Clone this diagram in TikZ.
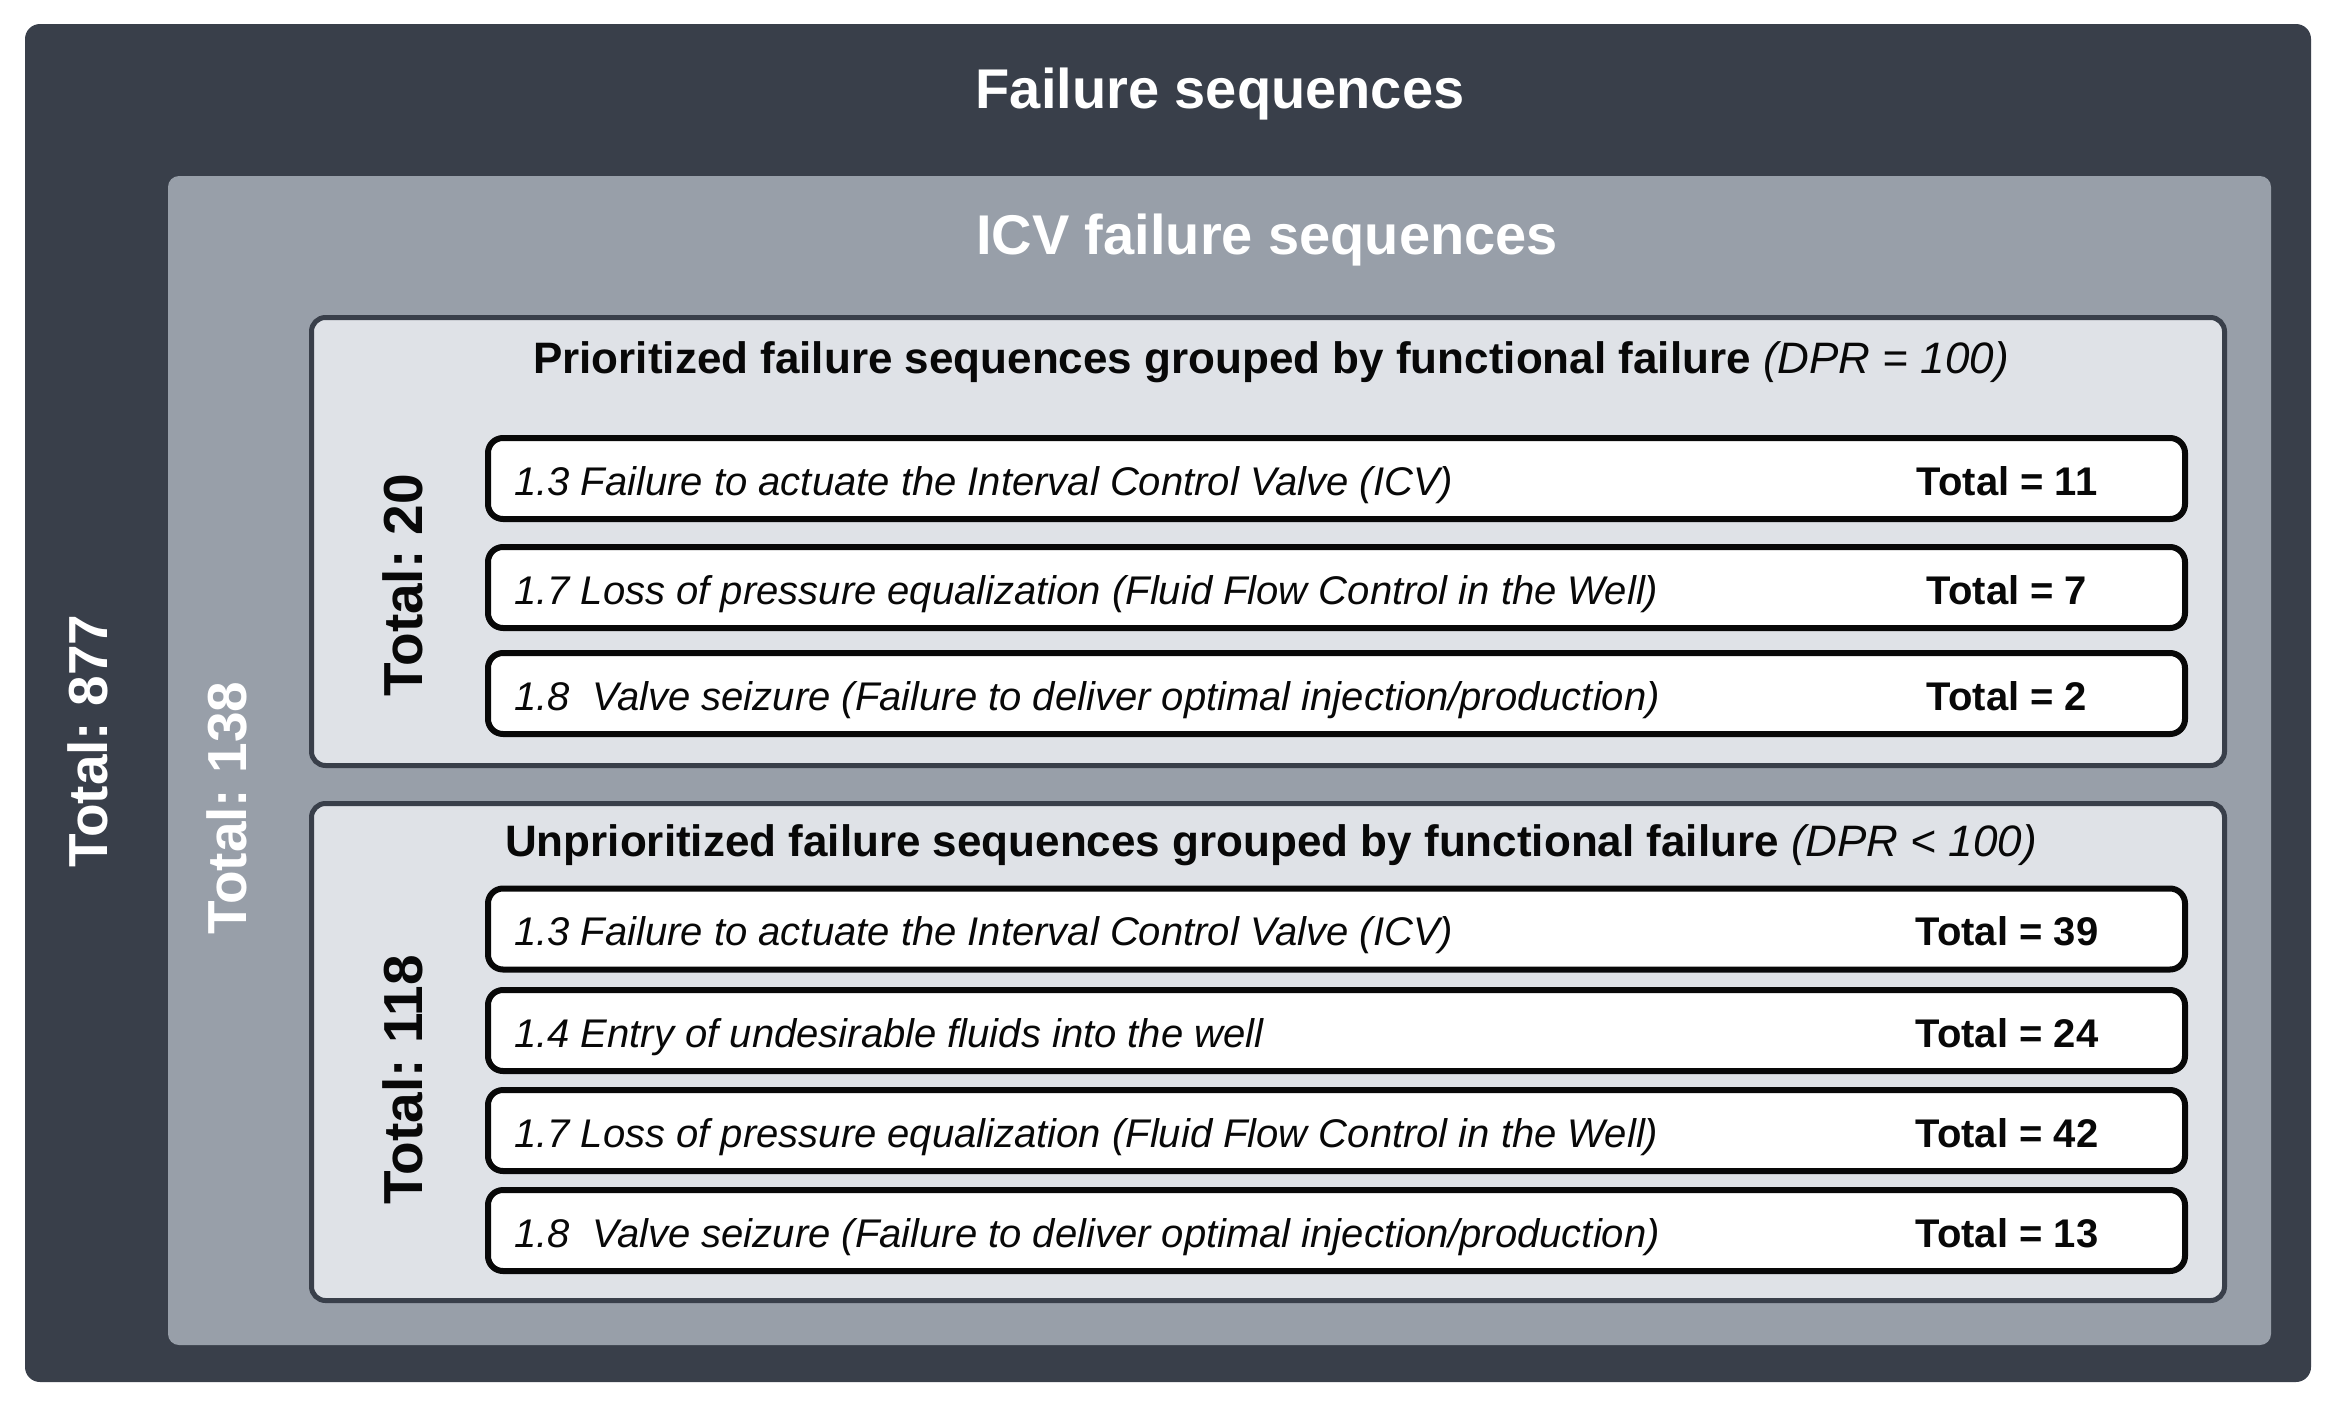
\documentclass[tikz,border=0pt]{standalone}
\usepackage{fontspec}
\setmainfont{Liberation Sans}
\frenchspacing
\definecolor{dk}{HTML}{393F4A}
\definecolor{md}{HTML}{989FA9}
\definecolor{lt}{HTML}{DFE2E7}
\definecolor{ink}{HTML}{080808}
\begin{document}
\begin{tikzpicture}[x=1pt,y=-1pt,
  plate/.style={inner sep=0pt, outer sep=0pt},
  frame/.style={draw=dk, line width=5pt, fill=lt, rounded corners=14pt, inner sep=0pt, minimum width=1913pt},
  itembox/.style={draw=ink, line width=6pt, fill=white, rounded corners=15pt, inner sep=0pt, minimum width=1697pt, minimum height=81pt},
  itemtext/.style={anchor=base west, inner sep=0pt, font=\fontsize{40}{48}\selectfont\itshape, text=ink},
  tottext/.style={anchor=base, inner sep=0pt, font=\fontsize{40}{48}\selectfont\bfseries, text=ink},
  title/.style={anchor=base, inner sep=0pt, font=\fontsize{56}{64}\selectfont\bfseries, text=white},
  header/.style={anchor=base, inner sep=0pt, font=\fontsize{44}{52}\selectfont, text=ink},
  vlabel/.style={rotate=90, inner sep=0pt, font=\fontsize{55}{62}\selectfont\bfseries}
]
\fill[white] (0,0) rectangle (2335,1411);
\useasboundingbox (0,0) rectangle (2335,1411);

% outer and middle plates
\node[plate, fill=dk, rounded corners=15pt, minimum width=2286pt, minimum height=1358pt] (outer) at (1168,703) {};
\node[plate, fill=md, rounded corners=11pt, minimum width=2103pt, minimum height=1169pt] (icv) at (1219.5,760.5) {};

% group frames
\node[frame, minimum height=448pt] (prio) at (1268,541.5) {};
\node[frame, minimum height=497pt] (unprio) at (1268,1052) {};

% titles
\node[title] (t1) at (1220,108) {Failure sequences};
\node[title] (t2) at (1267,254) {ICV failure sequences};
\node[header] (h1) at (1271,373) {\textbf{Prioritized failure sequences grouped by functional failure} \textit{(DPR = 100)}};
\node[header] (h2) at (1271,856) {\textbf{Unprioritized failure sequences grouped by functional failure} \textit{(DPR < 100)}};

% vertical totals
\node[vlabel, text=white] (v1) at (88,741) {Total: 877};
\node[vlabel, text=white] (v2) at (227,808) {Total: 138};
\node[vlabel, text=ink] (v3) at (403,585) {Total: 20};
\node[vlabel, text=ink] (v4) at (403,1080) {Total: 118};

% prioritized items
\node[itembox] (p1) at (1336.5,478.5) {};
\node[itembox] (p2) at (1336.5,587.5) {};
\node[itembox] (p3) at (1336.5,693.5) {};
\node[itemtext] (p1t) at (514,495) {1.3 Failure to actuate the Interval Control Valve (ICV)};
\node[itemtext] (p2t) at (514,604) {1.7 Loss of pressure equalization (Fluid Flow Control in the Well)};
\node[itemtext] (p3t) at (514,710) {1.8~~Valve seizure (Failure to deliver optimal injection/production)};
\node[tottext] (p1n) at (2007,495) {Total = 11};
\node[tottext] (p2n) at (2007,604) {Total = 7};
\node[tottext] (p3n) at (2007,710) {Total = 2};

% unprioritized items
\node[itembox] (u1) at (1336.5,929) {};
\node[itembox] (u2) at (1336.5,1030.5) {};
\node[itembox] (u3) at (1336.5,1130.5) {};
\node[itembox] (u4) at (1336.5,1230.5) {};
\node[itemtext] (u1t) at (514,945.5) {1.3 Failure to actuate the Interval Control Valve (ICV)};
\node[itemtext] (u2t) at (514,1047) {1.4 Entry of undesirable fluids into the well};
\node[itemtext] (u3t) at (514,1147) {1.7 Loss of pressure equalization (Fluid Flow Control in the Well)};
\node[itemtext] (u4t) at (514,1247) {1.8~~Valve seizure (Failure to deliver optimal injection/production)};
\node[tottext] (u1n) at (2007,945.5) {Total = 39};
\node[tottext] (u2n) at (2007,1047) {Total = 24};
\node[tottext] (u3n) at (2007,1147) {Total = 42};
\node[tottext] (u4n) at (2007,1247) {Total = 13};
\end{tikzpicture}
\end{document}
